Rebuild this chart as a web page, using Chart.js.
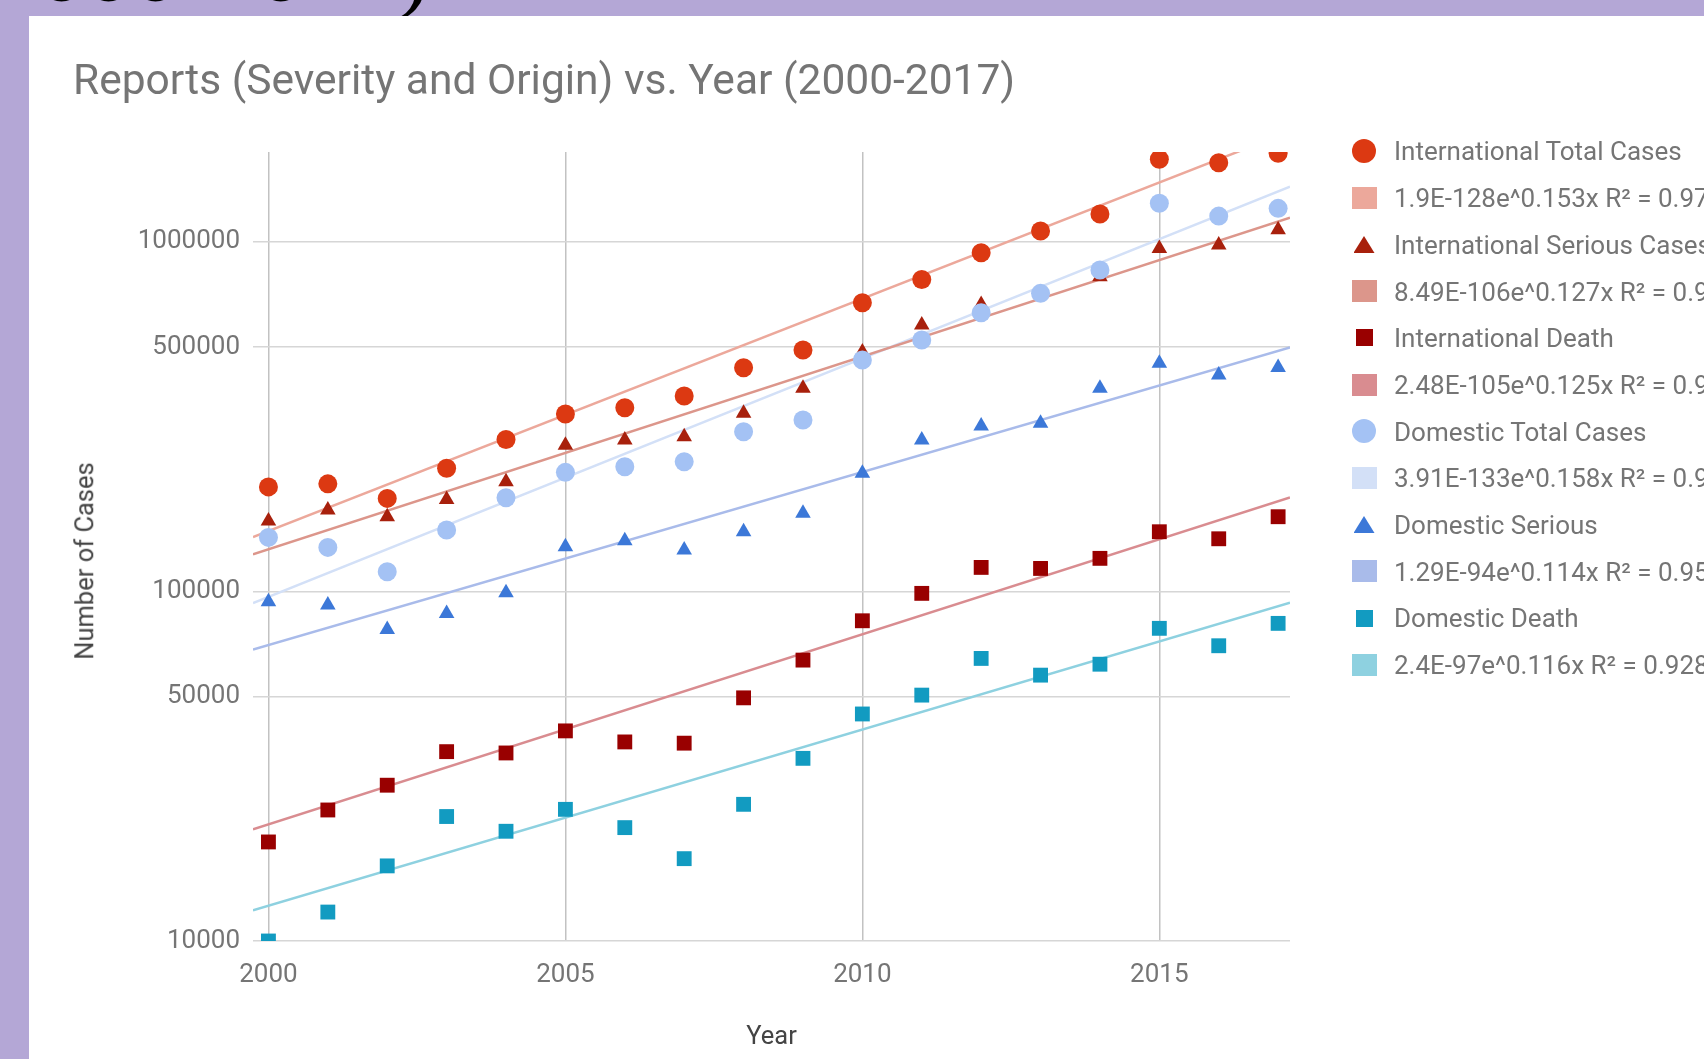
<!DOCTYPE html>
<html>
<head>
<meta charset="utf-8">
<script src="https://cdn.jsdelivr.net/npm/chart.js@4.4.1/dist/chart.umd.min.js"></script>
<style>
  html, body { margin: 0; padding: 0; }
  body {
    width: 1704px; height: 1059px; position: relative; overflow: hidden;
    background: #b4a7d6; font-family: Roboto, sans-serif;
  }
  #slideHeading {
    position: absolute; left: -40px; top: -79px; z-index: 0;
    font-family: "Liberation Serif", serif; font-size: 94px; line-height: 1;
    color: #000; white-space: nowrap;
  }
  #panel { position: absolute; left: 29px; top: 16px; right: 0; bottom: 0; background: #fff; z-index: 1; }
  #chart { position: absolute; left: 0; top: 0; z-index: 2; }
  #chartTitle {
    position: absolute; left: 73px; top: 59px; z-index: 3;
    font-size: 42.5px; line-height: 1; color: #757575; white-space: nowrap;
  }
  #yTitle {
    position: absolute; left: 85px; top: 561px; z-index: 3;
    transform: translate(-50%, -50%) rotate(-90deg);
    font-size: 25.5px; line-height: 1; color: #444; white-space: nowrap;
  }
  #legend { position: absolute; left: 0; top: 0; z-index: 3; }
  .lg-marker { position: absolute; }
  .lg-text {
    position: absolute; left: 1394px; font-size: 26px; line-height: 1;
    color: #757575; white-space: nowrap;
  }
</style>
</head>
<body>
<div id="slideHeading">(2000-2017)</div>
<div id="panel"></div>
<canvas id="chart" width="1704" height="1059"></canvas>
<div id="chartTitle">Reports (Severity and Origin) vs. Year (2000-2017)</div>
<div id="yTitle">Number of Cases</div>
<div id="legend"></div>

<script>
// Years on the horizontal axis
const years = [2000, 2001, 2002, 2003, 2004, 2005, 2006, 2007, 2008,
               2009, 2010, 2011, 2012, 2013, 2014, 2015, 2016, 2017];

// Reported cases per year
const intlTotal   = [199000, 203000, 184500, 225000, 272000, 321500, 335000, 362000, 436000,
                     490000, 669000, 780000, 930000, 1073000, 1200000, 1721000, 1683000, 1790000];
const intlSerious = [159000, 171000, 163500, 183000, 206000, 262000, 271000, 277000, 323000,
                     381000, 484000, 578000, 662000, 708000, 794000, 957000, 979000, 1083000];
const intlDeath   = [19200, 23700, 27900, 34800, 34500, 39900, 37100, 36800, 49600,
                     63600, 82400, 98700, 117100, 116300, 124300, 148100, 141400, 163500];
const domTotal    = [142700, 133600, 113800, 149800, 185200, 219000, 227200, 234800, 286100,
                     309000, 458700, 523400, 626500, 711800, 830000, 1288000, 1184000, 1246000];
const domSerious  = [93400, 91400, 77800, 86500, 99100, 134100, 139500, 131300, 148100,
                     167200, 217600, 271000, 297100, 302400, 380800, 449000, 415600, 437200];
const domDeath    = [10000, 12100, 16400, 22700, 20600, 23800, 21100, 17200, 24600,
                     33300, 44600, 50500, 64300, 57600, 61900, 78400, 69900, 81000];

// Exponential trendlines: value at the left and right ends of the year axis
const trendStart = [143000, 127600, 20850, 92600, 68200, 12250];
const trendEnd   = [2069000, 1172000, 185700, 1437000, 498900, 92800];

// Series and trendline names
const seriesNames = ["International Total Cases", "International Serious Cases", "International Death",
                     "Domestic Total Cases", "Domestic Serious", "Domestic Death"];
const trendLabels = ["1.9E-128e^0.153x R\u00b2 = 0.97", "8.49E-106e^0.127x R\u00b2 = 0.9",
                     "2.48E-105e^0.125x R\u00b2 = 0.9", "3.91E-133e^0.158x R\u00b2 = 0.9",
                     "1.29E-94e^0.114x R\u00b2 = 0.95", "2.4E-97e^0.116x R\u00b2 = 0.928"];

// Axis ranges and tick values
const yearMin = 1999.74, yearMax = 2017.2;
const caseMin = 10000, caseMax = 1806000;
const yearTicks = [2000, 2005, 2010, 2015];
const caseTicks = [10000, 50000, 100000, 500000, 1000000];

const seriesValues = [intlTotal, intlSerious, intlDeath, domTotal, domSerious, domDeath];
const seriesColors = ["#dc3912", "#a8200c", "#990000", "#a4c2f4", "#3c78d8", "#129bc1"];
const trendColors  = ["#eca89b", "#dc968b", "#d98c90", "#d3e0f7", "#a9bbea", "#8ed1e0"];
const pointStyles  = ["circle", "triangle", "rect", "circle", "triangle", "rect"];
const pointSizes   = { circle: 9.5, triangle: 9, rect: 10.5 };

const datasets = [];
seriesValues.forEach((vals, i) => {
  datasets.push({
    label: seriesNames[i],
    data: years.map((yr, j) => ({ x: yr, y: vals[j] })),
    showLine: false,
    pointStyle: pointStyles[i],
    pointRadius: pointSizes[pointStyles[i]],
    pointHoverRadius: pointSizes[pointStyles[i]],
    backgroundColor: seriesColors[i],
    borderColor: seriesColors[i],
    pointBorderWidth: 0,
    clip: 0,
    order: 6 - i
  });
  datasets.push({
    label: trendLabels[i],
    data: [{ x: yearMin, y: trendStart[i] }, { x: yearMax, y: trendEnd[i] }],
    showLine: true,
    borderColor: trendColors[i],
    backgroundColor: trendColors[i],
    borderWidth: 2.5,
    pointRadius: 0,
    pointHoverRadius: 0,
    clip: 0,
    order: 100
  });
});

const tickFont = { family: "Roboto", size: 26 };

new Chart(document.getElementById("chart"), {
  type: "scatter",
  data: { datasets },
  options: {
    responsive: false,
    animation: false,
    devicePixelRatio: 1,
    layout: { padding: { top: 152, right: 414, bottom: 0, left: 0 } },
    plugins: {
      legend: { display: false },
      title: { display: false },
      tooltip: { enabled: false }
    },
    events: [],
    scales: {
      x: {
        type: "linear",
        min: yearMin,
        max: yearMax,
        bounds: "data",
        afterBuildTicks: (s) => { s.ticks = yearTicks.map(v => ({ value: v })); },
        afterFit: (s) => { s.height = 118; },
        ticks: {
          autoSkip: false, maxRotation: 0, minRotation: 0, padding: 19,
          color: "#757575", font: tickFont,
          callback: (v) => String(v)
        },
        grid: { color: "#c2c2c2", lineWidth: 1.5, drawTicks: false },
        border: { display: false },
        title: {
          display: true, text: "Year", color: "#444",
          font: { family: "Roboto", size: 25.5 },
          padding: { top: 0, bottom: 6 }
        }
      },
      y: {
        type: "logarithmic",
        min: caseMin,
        max: caseMax,
        bounds: "data",
        afterBuildTicks: (s) => { s.ticks = caseTicks.map(v => ({ value: v })); },
        afterFit: (s) => { s.width = 253; },
        ticks: {
          autoSkip: false, padding: 13,
          color: "#757575", font: tickFont,
          callback: (v) => String(v)
        },
        grid: { color: "#d6d6d6", lineWidth: 1.5, drawTicks: false },
        border: { display: false }
      }
    }
  }
});

// Legend: one row per series, followed by its trendline
const legend = document.getElementById("legend");
const rowTop = 151, rowStep = 46.7, markerCx = 1364;
function addRow(idx, text, shape, color) {
  const cy = rowTop + rowStep * idx;
  const m = document.createElement("div");
  m.className = "lg-marker";
  let w, h;
  if (shape === "circle") { w = 24; h = 24; m.style.borderRadius = "50%"; }
  else if (shape === "triangle") { w = 21; h = 17; m.style.clipPath = "polygon(50% 0, 100% 100%, 0 100%)"; }
  else if (shape === "rect") { w = 17; h = 17; }
  else { w = 25; h = 22; }
  m.style.width = w + "px"; m.style.height = h + "px";
  m.style.left = (markerCx - w / 2) + "px";
  m.style.top = (cy - h / 2) + "px";
  m.style.background = color;
  legend.appendChild(m);
  const t = document.createElement("div");
  t.className = "lg-text";
  t.textContent = text;
  t.style.top = (cy - 12.6) + "px";
  legend.appendChild(t);
}
seriesNames.forEach((name, i) => {
  addRow(2 * i, name, pointStyles[i], seriesColors[i]);
  addRow(2 * i + 1, trendLabels[i], "swatch", trendColors[i]);
});
</script>
</body>
</html>
